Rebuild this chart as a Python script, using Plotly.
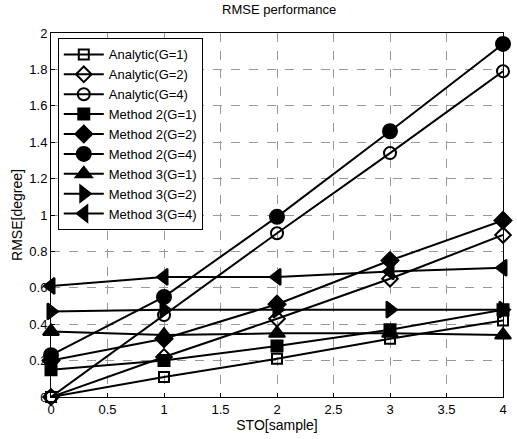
import plotly.graph_objects as go

sto = [0, 1, 2, 3, 4]

names = ["Analytic(G=1)", "Analytic(G=2)", "Analytic(G=4)",
         "Method 2(G=1)", "Method 2(G=2)", "Method 2(G=4)",
         "Method 3(G=1)", "Method 3(G=2)", "Method 3(G=4)"]

analytic_g1 = [0.0, 0.11, 0.21, 0.32, 0.42]
analytic_g2 = [0.0, 0.22, 0.43, 0.65, 0.89]
analytic_g4 = [0.0, 0.45, 0.90, 1.34, 1.79]
method2_g1 = [0.15, 0.20, 0.28, 0.37, 0.48]
method2_g2 = [0.20, 0.32, 0.51, 0.75, 0.97]
method2_g4 = [0.23, 0.55, 0.99, 1.46, 1.94]
method3_g1 = [0.36, 0.34, 0.35, 0.35, 0.34]
method3_g2 = [0.47, 0.48, 0.48, 0.48, 0.48]
method3_g4 = [0.61, 0.66, 0.66, 0.69, 0.71]

series = [analytic_g1, analytic_g2, analytic_g4,
          method2_g1, method2_g2, method2_g4,
          method3_g1, method3_g2, method3_g4]

symbols = ["square-open", "diamond-open", "circle-open",
           "square", "diamond", "circle",
           "triangle-up", "triangle-right", "triangle-left"]
sizes = [10, 12, 12, 11, 13, 14, 14, 14, 14]

fig = go.Figure()
for name, ys, sym, sz in zip(names, series, symbols, sizes):
    fig.add_trace(go.Scatter(
        x=sto, y=ys, name=name, mode="lines+markers",
        line=dict(color="black", width=2),
        marker=dict(symbol=sym, size=sz, color="black",
                    line=dict(color="black", width=2)),
        cliponaxis=False,
    ))

fig.update_layout(
    width=517, height=439,
    margin=dict(l=51, r=10, t=33, b=41),
    paper_bgcolor="white", plot_bgcolor="white",
    font=dict(family="Liberation Sans, Arial", size=13, color="black"),
    title=dict(text="RMSE performance", x=0.54, xanchor="center",
               y=0.988, yanchor="top", font=dict(size=13)),
    showlegend=True,
    legend=dict(x=0.015, y=0.985, xanchor="left", yanchor="top",
                bgcolor="white", bordercolor="black", borderwidth=1,
                font=dict(size=13), tracegroupgap=0, itemwidth=40),
)
fig.update_xaxes(
    range=[0, 4], dtick=0.5, tick0=0,
    tickfont=dict(size=13),
    title=dict(text="STO[sample]", standoff=3, font=dict(size=14)),
    showgrid=True, gridcolor="#999", griddash="dash", gridwidth=1,
    showline=True, linecolor="black", linewidth=1, mirror=True,
    ticks="inside", ticklen=4, tickcolor="black", zeroline=False,
)
fig.update_yaxes(
    range=[0, 2], dtick=0.2, tick0=0,
    tickfont=dict(size=13),
    title=dict(text="RMSE[degree]", standoff=3, font=dict(size=14)),
    showgrid=True, gridcolor="#999", griddash="dash", gridwidth=1,
    showline=True, linecolor="black", linewidth=1, mirror=True,
    ticks="inside", ticklen=4, tickcolor="black", zeroline=False,
)

fig.write_html("out.html")
